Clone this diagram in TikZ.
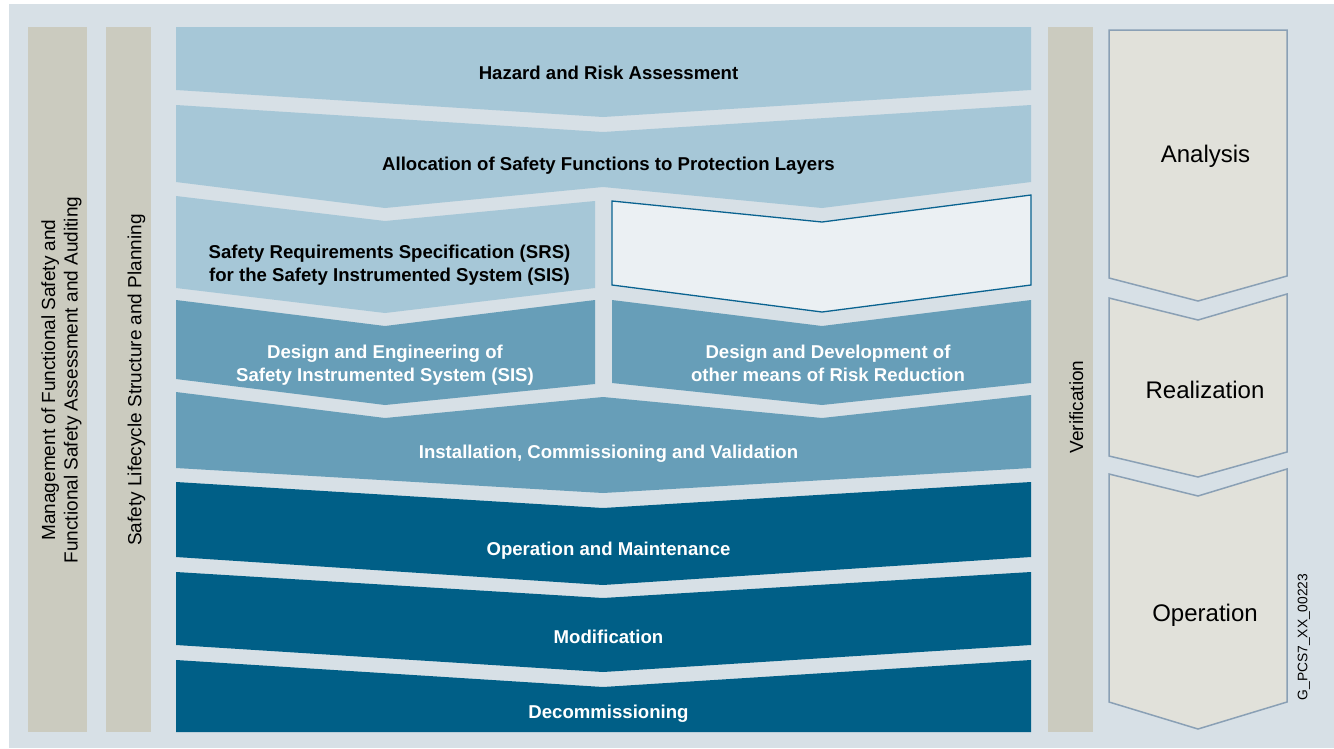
\documentclass[tikz,border=0pt]{standalone}
\usepackage{fontspec}
\setmainfont{Liberation Sans}
\definecolor{bg}{HTML}{D7E0E6}
\definecolor{barcol}{HTML}{CBCBBF}
\definecolor{lightb}{HTML}{A6C7D7}
\definecolor{midb}{HTML}{679EB8}
\definecolor{darkb}{HTML}{005F87}
\definecolor{whitebox}{HTML}{EBF0F3}
\definecolor{wbborder}{HTML}{0A6390}
\definecolor{phasefill}{HTML}{E1E1DA}
\definecolor{phaseborder}{HTML}{8AA0B5}
\tikzset{
  blocklbl/.style={anchor=base, inner sep=0pt, align=center, font=\fontsize{18.6}{23}\selectfont\bfseries},
  blocklblc/.style={anchor=center, inner sep=0pt, align=center, font=\fontsize{18.6}{23.3}\selectfont\bfseries},
  phaselbl/.style={anchor=base, inner sep=0pt, font=\fontsize{24}{28}\selectfont},
  vlbl/.style={anchor=center, inner sep=0pt, rotate=90, align=center, font=\fontsize{19}{22.5}\selectfont},
  phasebox/.style={fill=phasefill, draw=phaseborder, line width=1.5pt, line join=miter},
  barbox/.style={fill=barcol},
}
\begin{document}
\begin{tikzpicture}[x=1pt,y=-1pt]
\useasboundingbox (0,0) rectangle (1334,748);
\fill[bg] (9,4) rectangle (1334,748);
% side bars
\fill[barbox] (28,27) rectangle (87,732);
\fill[barbox] (106,27) rectangle (151,732);
\fill[barbox] (1048,27) rectangle (1093,732);
% light blue blocks
\fill[lightb] (176,27) -- (1031,27) -- (1031,90) -- (603,117) -- (176,90) -- cycle;
\fill[lightb] (176,105) -- (603,132) -- (1031,105) -- (1031,182) -- (822,208) -- (603,187) -- (385,208) -- (176,182) -- cycle;
\fill[lightb] (176,196) -- (385,221) -- (595,201) -- (595,288) -- (385,313) -- (176,288) -- cycle;
\filldraw[fill=whitebox, draw=wbborder, line width=1.3pt] (612,201) -- (822,222) -- (1031,195) -- (1031,285) -- (822,312) -- (612,285) -- cycle;
% mid blue blocks
\fill[midb] (176,300) -- (385,326) -- (595,300) -- (595,384) -- (385,405) -- (176,379) -- cycle;
\fill[midb] (612,300) -- (822,326) -- (1031,300) -- (1031,383) -- (822,405) -- (612,383) -- cycle;
\fill[midb] (176,392) -- (385,418) -- (603,397) -- (822,418) -- (1031,395) -- (1031,468) -- (603,493) -- (176,468) -- cycle;
% dark blue blocks
\fill[darkb] (176,482) -- (603,508) -- (1031,482) -- (1031,557) -- (603,585) -- (176,557) -- cycle;
\fill[darkb] (176,572) -- (603,598) -- (1031,572) -- (1031,645) -- (603,672) -- (176,645) -- cycle;
\fill[darkb] (176,660) -- (603,687) -- (1031,660) -- (1031,732) -- (176,732) -- cycle;
% phase chevrons
\draw[phasebox] (1109,30) -- (1287,30) -- (1287,276) -- (1198,301) -- (1109,278) -- cycle;
\draw[phasebox] (1109,298) -- (1198,320) -- (1287,294) -- (1287,452) -- (1198,477) -- (1109,456) -- cycle;
\draw[phasebox] (1109,474) -- (1198,496) -- (1287,469) -- (1287,702) -- (1198,729) -- (1109,702) -- cycle;
% labels
\node[blocklbl] (hazard) at (608.5,79) {Hazard and Risk Assessment};
\node[blocklbl] (alloc) at (608.5,170) {Allocation of Safety Functions to Protection Layers};
\node[blocklblc] (srs) at (389.5,265.5) {Safety Requirements Specification (SRS)\\for the Safety Instrumented System (SIS)};
\node[blocklblc, text=white] (dsis) at (385,365) {Design and Engineering of\\Safety Instrumented System (SIS)};
\node[blocklblc, text=white] (dother) at (828,363) {Design and Development of\\other means of Risk Reduction};
\node[blocklbl, text=white] (install) at (608.5,458) {Installation, Commissioning and Validation};
\node[blocklbl, text=white] (om) at (608.5,555) {Operation and Maintenance};
\node[blocklbl, text=white] (modif) at (608.5,643) {Modification};
\node[blocklbl, text=white] (decom) at (608.5,718) {Decommissioning};
\node[phaselbl] (analysis) at (1205.5,162) {Analysis};
\node[phaselbl] (realiz) at (1205,398) {Realization};
\node[phaselbl] (oper) at (1205,621) {Operation};
\node[vlbl] (mgmt) at (61.5,380) {Management of Functional Safety and\\Functional Safety Assessment and Auditing};
\node[vlbl] (slc) at (136.5,380) {Safety Lifecycle Structure and Planning};
\node[vlbl] (verif) at (1076.3,407) {Verification};
\node[vlbl, font=\fontsize{13.8}{16}\selectfont] (gid) at (1304,637) {G\_PCS7\_XX\_00223};
\end{tikzpicture}
\end{document}
